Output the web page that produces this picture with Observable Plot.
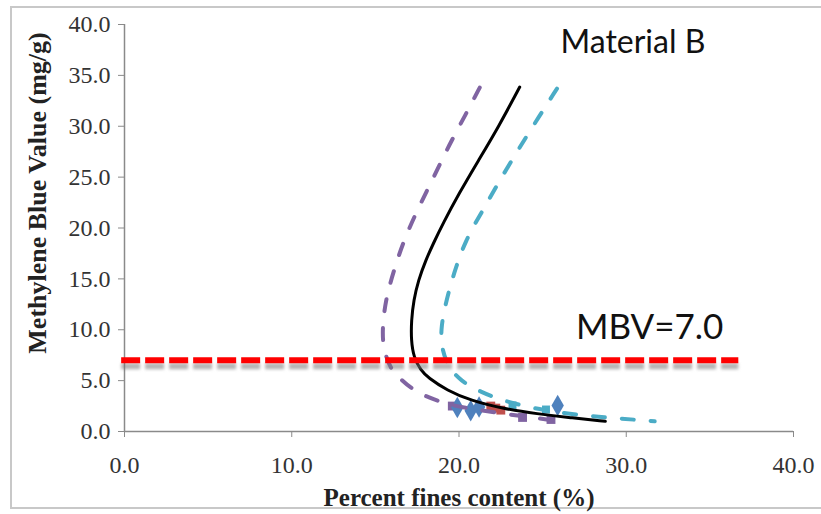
<!DOCTYPE html>
<html>
<head>
<meta charset="utf-8">
<script src="https://cdn.jsdelivr.net/npm/d3@7"></script>
<script src="https://cdn.jsdelivr.net/npm/@observablehq/plot@0.6"></script>
<style>
  html, body { margin: 0; padding: 0; background: #fff; }
  #wrap { position: relative; width: 821px; height: 514px; overflow: hidden; }
  #border { position: absolute; left: 10px; top: 6px; width: 840px; height: 503px; border: 2px solid #c8c8c8; box-sizing: border-box; }
  #chart { position: absolute; left: 0; top: 0; }
</style>
</head>
<body>
<div id="wrap"><div id="border"></div><div id="chart"></div></div>
<script>
// ---- data ----
const xTicks = [0, 10, 20, 30, 40];
const yTicks = [0, 5, 10, 15, 20, 25, 30, 35, 40];
const xTitle = "Percent fines content (%)";
const yTitle = "Methylene Blue Value (mg/g)";
const materialLabel = [{text: "Material B", x: 30.4, y: 38.2}];
const mbvLabel = [{text: "MBV=7.0", x: 31.4, y: 10.2}];
const mbvLine = [{x: -0.2, y: 7}, {x: 36.7, y: 7}];

// fitted curve (black, solid)
const fitCurve = [
  {x: 23.63, y: 33.85}, {x: 22.35, y: 29.9}, {x: 21.15, y: 26.6}, {x: 20.0, y: 23.4},
  {x: 19.03, y: 20.4}, {x: 18.5, y: 18.6}, {x: 18.0, y: 16.8}, {x: 17.57, y: 14.85},
  {x: 17.29, y: 12.9}, {x: 17.15, y: 10.9}, {x: 17.14, y: 8.95}, {x: 17.29, y: 7.3},
  {x: 17.72, y: 6.0}, {x: 18.14, y: 5.3}, {x: 19.29, y: 4.03}, {x: 20.68, y: 3.05},
  {x: 22.67, y: 2.23}, {x: 24.67, y: 1.74}, {x: 26.66, y: 1.35}, {x: 28.75, y: 1.0}
];
// lower bound (purple, dashed)
const lowerCurve = [
  {x: 21.24, y: 33.8}, {x: 20.38, y: 31.1}, {x: 19.39, y: 28.1}, {x: 18.49, y: 25.0},
  {x: 17.59, y: 22.05}, {x: 16.7, y: 18.8}, {x: 16.1, y: 15.8}, {x: 15.6, y: 12.9},
  {x: 15.4, y: 9.9}, {x: 15.5, y: 7.96}, {x: 15.9, y: 6.2}, {x: 16.4, y: 5.3},
  {x: 17.5, y: 3.7}, {x: 19.5, y: 2.56}, {x: 21.3, y: 2.06}, {x: 23.5, y: 1.57},
  {x: 25.7, y: 1.08}
];
// upper bound (cyan, dashed)
const upperCurve = [
  {x: 25.86, y: 33.7}, {x: 24.57, y: 30.4}, {x: 23.47, y: 27.5}, {x: 22.37, y: 24.5},
  {x: 21.38, y: 21.6}, {x: 20.38, y: 18.8}, {x: 19.68, y: 15.5}, {x: 19.19, y: 12.56},
  {x: 18.89, y: 9.93}, {x: 18.99, y: 7.96}, {x: 19.39, y: 6.3}, {x: 20.08, y: 5.0},
  {x: 21.28, y: 3.87}, {x: 22.88, y: 2.88}, {x: 25.06, y: 2.06}, {x: 27.45, y: 1.57},
  {x: 29.45, y: 1.3}, {x: 31.7, y: 1.0}
];
// measured points
const blueDiamonds = [{x: 19.9, y: 2.36}, {x: 20.7, y: 2.04}, {x: 21.2, y: 2.4}, {x: 25.9, y: 2.56}];
const redSquares = [{x: 21.9, y: 2.5}, {x: 22.5, y: 2.1}, {x: 22.2, y: 2.3}];
const cyanPoints = [{x: 23.2, y: 2.56}, {x: 25.2, y: 2.16}];
const purplePoints = [{x: 19.6, y: 2.5}, {x: 23.8, y: 1.38}, {x: 25.5, y: 1.18}];

// ---- chart ----
const fmt = d3.format(".1f");
const axisColor = "#8a8a8a";
const serif = "Liberation Serif";
const sans = "Lato";

const svg = Plot.plot({
  width: 821,
  height: 514,
  marginLeft: 124,
  marginRight: 28,
  marginTop: 24,
  marginBottom: 83,
  style: {fontFamily: serif, fontSize: "17px", background: "transparent"},
  x: {domain: [0, 40]},
  y: {domain: [0, 40]},
  marks: [
    Plot.axisX({ticks: xTicks, tickFormat: () => "", tickSize: 6, label: null, stroke: axisColor}),
    Plot.axisY({ticks: yTicks, tickFormat: () => "", tickSize: 6, label: null, stroke: axisColor}),
    Plot.ruleX([0], {stroke: axisColor, strokeWidth: 1.5}),
    Plot.ruleY([0], {stroke: axisColor, strokeWidth: 1.5}),
    // tick labels
    Plot.text(xTicks, {x: d => d, y: d => 0, text: d => fmt(d), dy: 34, lineAnchor: "middle",
      textAnchor: "middle", fontFamily: serif, fontSize: 24, fill: "#333"}),
    Plot.text(yTicks, {x: d => 0, y: d => d, text: d => fmt(d), dx: -14, lineAnchor: "middle",
      textAnchor: "end", fontFamily: serif, fontSize: 24, fill: "#333"}),
    // measured points
    Plot.dot(purplePoints, {x: "x", y: "y", symbol: "square", r: 5, fill: "#8064a2"}),
    Plot.dot(blueDiamonds, {x: "x", y: "y", symbol: "diamond", r: 6.5, fill: "#4f81bd"}),
    Plot.dot(redSquares, {x: "x", y: "y", symbol: "square", r: 5, fill: "#c0504d"}),
    Plot.dot(cyanPoints, {x: "x", y: "y", symbol: "square", r: 4.5, fill: "#4bacc6"}),
    // bounds and fit
    Plot.line(lowerCurve, {x: "x", y: "y", curve: "basis", stroke: "#8064a2", strokeWidth: 4,
      strokeDasharray: "12,17", strokeLinecap: "round"}),
    Plot.line(upperCurve, {x: "x", y: "y", curve: "basis", stroke: "#4bacc6", strokeWidth: 4,
      strokeDasharray: "12,17", strokeLinecap: "round"}),
    Plot.line(fitCurve, {x: "x", y: "y", curve: "basis", stroke: "#000", strokeWidth: 3}),
    // MBV = 7 threshold with shadow
    Plot.line(mbvLine, {x: "x", y: "y", stroke: "#777", strokeOpacity: 0.55, strokeWidth: 6, dy: 6,
      strokeDasharray: "19,5", strokeLinecap: "butt", ariaDescription: "shadow"}),
    Plot.line(mbvLine, {x: "x", y: "y", stroke: "#ff0000", strokeWidth: 6, strokeDasharray: "19,5",
      strokeLinecap: "butt"}),
    // annotations
    Plot.text(materialLabel, {x: "x", y: "y", text: "text", fontFamily: sans, fontSize: 32, fill: "#111",
      textAnchor: "middle", lineAnchor: "middle"}),
    Plot.text(mbvLabel, {x: "x", y: "y", text: "text", fontFamily: sans, fontSize: 35, fill: "#111",
      textAnchor: "middle", lineAnchor: "middle"}),
    // axis titles
    Plot.text([xTitle], {text: d => d, frameAnchor: "bottom", dy: 66, lineAnchor: "middle",
      textAnchor: "middle", fontWeight: "bold", fontFamily: serif, fontSize: 25, fill: "#222"}),
    Plot.text([yTitle], {text: d => d, frameAnchor: "left", dx: -87, dy: -35, rotate: -90, lineAnchor: "middle",
      textAnchor: "middle", fontWeight: "bold", fontFamily: serif, fontSize: 26, fill: "#222"})
  ]
});
d3.select(svg).selectAll('[aria-description="shadow"]').style("filter", "blur(1.6px)");
document.getElementById("chart").appendChild(svg);
</script>
</body>
</html>
